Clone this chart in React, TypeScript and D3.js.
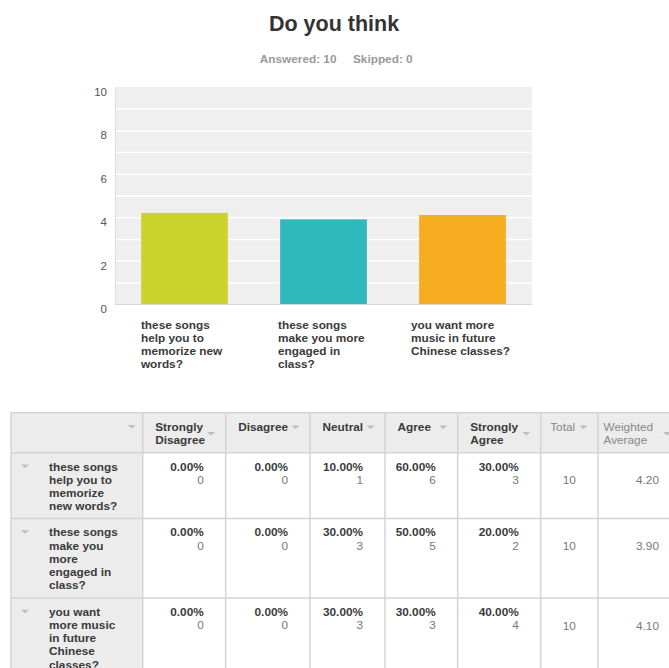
import React, { useEffect, useRef } from "react";
import * as d3 from "d3";

const title = "Do you think";
const answered = 10;
const skipped = 0;

const categories = [
  "these songs help you to memorize new words?",
  "these songs make you more engaged in class?",
  "you want more music in future Chinese classes?",
];
const chartLabelLines = [
  ["these songs", "help you to", "memorize new", "words?"],
  ["these songs", "make you more", "engaged in", "class?"],
  ["you want more", "music in future", "Chinese classes?"],
];
const tableLabelLines = [
  ["these songs", "help you to", "memorize", "new words?"],
  ["these songs", "make you", "more", "engaged in", "class?"],
  ["you want", "more music", "in future", "Chinese", "classes?"],
];
const weightedAverages = [4.2, 3.9, 4.1];
const barColors = ["#CCD32B", "#30B9BC", "#F5AD1F"];
const yTicks = [0, 2, 4, 6, 8, 10];

const responses = ["Strongly Disagree", "Disagree", "Neutral", "Agree", "Strongly Agree"];
const responseHeaderLines = [["Strongly", "Disagree"], ["Disagree"], ["Neutral"], ["Agree"], ["Strongly", "Agree"]];
const counts = [
  [0, 0, 1, 6, 3],
  [0, 0, 3, 5, 2],
  [0, 0, 3, 3, 4],
];
const totals = [10, 10, 10];

// layout
const W = 669;
const H = 668;
const FONT = "'Liberation Sans', Arial, sans-serif";
const colEdges = [11, 142.7, 225.7, 310, 385, 457.7, 540.7, 598, 690];
const rowEdges = [412.7, 452.7, 518.5, 598, 700];

export default function App() {
  const ref = useRef<SVGSVGElement | null>(null);

  useEffect(() => {
    const svg = d3.select(ref.current);
    svg.selectAll("*").remove();

    // Title
    svg.append("text").attr("x", 334).attr("y", 31).attr("text-anchor", "middle")
      .attr("font-family", FONT).attr("font-weight", "bold").attr("font-size", 21.5)
      .attr("fill", "#333").text(title);
    svg.append("text").attr("x", 336.5).attr("y", 63).attr("text-anchor", "end")
      .attr("font-family", FONT).attr("font-weight", "bold").attr("font-size", 11.8)
      .attr("fill", "#999").text(`Answered: ${answered}`);
    svg.append("text").attr("x", 353).attr("y", 63).attr("text-anchor", "start")
      .attr("font-family", FONT).attr("font-weight", "bold").attr("font-size", 11.8)
      .attr("fill", "#999").text(`Skipped: ${skipped}`);

    // Chart
    const x0 = 115, x1 = 532, yTop = 87, yBot = 304;
    const y = d3.scaleLinear().domain([0, 10]).range([yBot, yTop]);
    const x = d3.scaleBand<string>().domain(categories).range([x0, x1])
      .paddingInner(0.376).paddingOuter(0.188);

    const g = svg.append("g");
    g.append("rect").attr("x", x0).attr("y", yTop).attr("width", x1 - x0).attr("height", yBot - yTop)
      .attr("fill", "#EFEFEF");
    g.selectAll("line.grid").data(d3.range(1, 10)).enter().append("line")
      .attr("x1", x0).attr("x2", x1).attr("y1", (d) => y(d) + 0.5).attr("y2", (d) => y(d) + 0.5)
      .attr("stroke", "#fff").attr("stroke-width", 1.5);
    g.append("line").attr("x1", x0 + 0.5).attr("x2", x0 + 0.5).attr("y1", yTop).attr("y2", yBot)
      .attr("stroke", "#ddd");
    g.selectAll("text.ytick").data(yTicks).enter().append("text")
      .attr("x", 107).attr("y", (d) => y(d) + 5).attr("dominant-baseline", "central")
      .attr("text-anchor", "end").attr("font-family", FONT).attr("font-size", 11.5).attr("fill", "#555")
      .text((d) => String(d));

    g.selectAll("rect.bar").data(categories).enter().append("rect")
      .attr("x", (d) => x(d)!).attr("width", x.bandwidth())
      .attr("y", (d, i) => y(weightedAverages[i])).attr("height", (d, i) => yBot - y(weightedAverages[i]))
      .attr("fill", (d, i) => barColors[i]);
    g.append("line").attr("x1", x0).attr("x2", x1).attr("y1", yBot + 0.5).attr("y2", yBot + 0.5)
      .attr("stroke", "#d6d6d6");

    categories.forEach((c, i) => {
      const t = g.append("text").attr("font-family", FONT).attr("font-weight", "bold")
        .attr("font-size", 11.8).attr("fill", "#3a3a3a");
      chartLabelLines[i].forEach((ln, j) => {
        t.append("tspan").attr("x", 0).attr("y", 329 + j * 13).text(ln);
      });
      const node = t.node() as SVGTextElement;
      const w = node.getBBox().width;
      const cx = x(c)! + x.bandwidth() / 2;
      t.attr("transform", `translate(${cx - w / 2 - 2},0)`);
    });

    // Table
    const tg = svg.append("g");
    const tableRight = colEdges[colEdges.length - 1];
    // header background
    tg.append("rect").attr("x", colEdges[0]).attr("y", rowEdges[0])
      .attr("width", tableRight - colEdges[0]).attr("height", rowEdges[1] - rowEdges[0]).attr("fill", "#ECECEC");
    // first column background
    tg.append("rect").attr("x", colEdges[0]).attr("y", rowEdges[1])
      .attr("width", colEdges[1] - colEdges[0]).attr("height", rowEdges[rowEdges.length - 1] - rowEdges[1]).attr("fill", "#ECECEC");
    // borders
    rowEdges.forEach((ry) => {
      tg.append("line").attr("x1", colEdges[0]).attr("x2", tableRight).attr("y1", ry).attr("y2", ry)
        .attr("stroke", "#D3D3D3").attr("stroke-width", 1.5);
    });
    colEdges.forEach((cx) => {
      tg.append("line").attr("x1", cx).attr("x2", cx).attr("y1", rowEdges[0]).attr("y2", rowEdges[rowEdges.length - 1])
        .attr("stroke", "#D3D3D3").attr("stroke-width", 1.5);
    });

    const arrow = (cx: number, cy: number) => {
      tg.append("path").attr("d", `M${cx - 4},${cy - 2}L${cx + 4},${cy - 2}L${cx},${cy + 1.5}Z`)
        .attr("fill", "#BDBDBD");
    };

    const hy1 = 427, lh = 13.2;
    arrow(colEdges[1] - 11, hy1);
    const headers = [...responseHeaderLines, ["Total"], ["Weighted", "Average"]];
    headers.forEach((lines, k) => {
      const left = colEdges[k + 1];
      const right = colEdges[k + 2];
      const isResp = k < responses.length;
      const pad = k === headers.length - 1 ? 5.5 : isResp ? 12.5 : 9.5;
      const t = tg.append("text").attr("font-family", FONT).attr("font-size", 11.8)
        .attr("font-weight", isResp ? "bold" : "normal").attr("fill", isResp ? "#3a3a3a" : "#888");
      lines.forEach((ln, j) => {
        t.append("tspan").attr("x", left + pad).attr("y", hy1 + j * lh).attr("dominant-baseline", "central").text(ln);
      });
      const ay = hy1 + ((lines.length - 1) * lh) / 2 + 0.5;
      arrow(k === headers.length - 1 ? 667 : right - 14.5, ay);
    });

    counts.forEach((row, r) => {
      const top = rowEdges[r + 1];
      const ly = top + 13.8;
      arrow(25, ly);
      const t = tg.append("text").attr("font-family", FONT).attr("font-size", 11.8)
        .attr("font-weight", "bold").attr("fill", "#3a3a3a");
      tableLabelLines[r].forEach((ln, j) => {
        t.append("tspan").attr("x", 49).attr("y", ly + j * lh).attr("dominant-baseline", "central").text(ln);
      });
      row.forEach((v, k) => {
        const right = colEdges[k + 2] - 22;
        tg.append("text").attr("x", right).attr("y", ly).attr("text-anchor", "end")
          .attr("dominant-baseline", "central").attr("font-family", FONT).attr("font-size", 11.8)
          .attr("font-weight", "bold").attr("fill", "#3a3a3a")
          .text(`${((v / totals[r]) * 100).toFixed(2)}%`);
        tg.append("text").attr("x", right).attr("y", ly + lh).attr("text-anchor", "end")
          .attr("dominant-baseline", "central").attr("font-family", FONT).attr("font-size", 11.8)
          .attr("fill", "#777").text(String(v));
      });
      const tc = (colEdges[6] + colEdges[7]) / 2;
      tg.append("text").attr("x", tc).attr("y", ly + lh + 0.5).attr("text-anchor", "middle")
        .attr("dominant-baseline", "central").attr("font-family", FONT).attr("font-size", 11.8)
        .attr("fill", "#777").text(String(totals[r]));
      tg.append("text").attr("x", 659).attr("y", ly + lh + 0.5).attr("text-anchor", "end")
        .attr("dominant-baseline", "central").attr("font-family", FONT).attr("font-size", 11.8)
        .attr("fill", "#777").text(weightedAverages[r].toFixed(2));
    });
  }, []);

  return (
    <div style={{ position: "absolute", left: 0, top: 0, width: W, height: H, overflow: "hidden", background: "#fff" }}>
      <svg ref={ref} width={W} height={H} style={{ display: "block" }} />
    </div>
  );
}
